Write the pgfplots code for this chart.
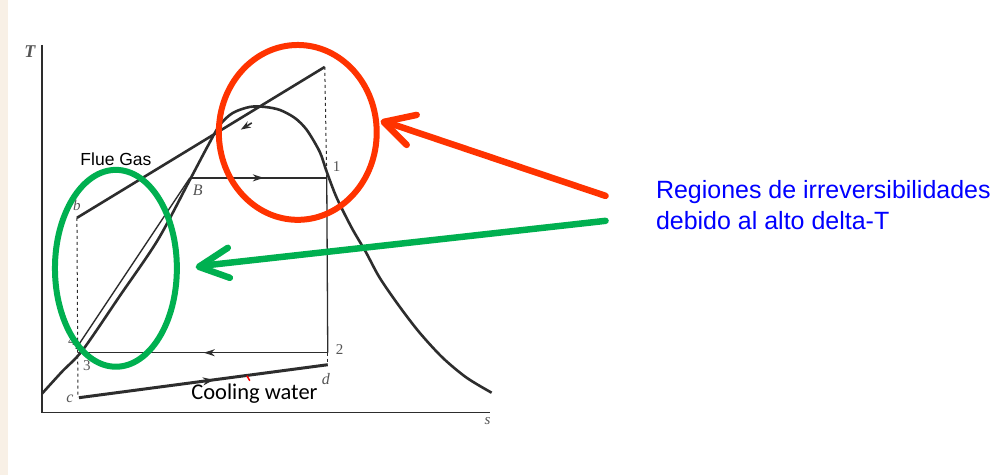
\documentclass[border=0pt]{standalone}
\usepackage{pgfplots}
\pgfplotsset{compat=1.18}
\usetikzlibrary{arrows.meta}
\usepackage{fontspec}
\setmainfont{Liberation Serif}
\newfontfamily\arial{Liberation Sans}
\newfontfamily\calibri{Carlito}
\definecolor{ink}{RGB}{45,45,45}
\definecolor{lbl}{RGB}{85,85,85}
\definecolor{redo}{RGB}{255,51,0}
\definecolor{grn}{RGB}{0,176,80}
\definecolor{txtblue}{RGB}{0,0,255}
\definecolor{beige}{RGB}{248,240,230}
\begin{document}
\begin{tikzpicture}
\begin{axis}[scale only axis, width=994pt, height=475pt,
  xmin=0, xmax=994, ymin=0, ymax=475, y dir=reverse,
  axis lines=none, clip=false]
% background
\addplot[fill=white, draw=none] coordinates {(0,0)(994,0)(994,475)(0,475)} -- cycle;
\addplot[fill=beige, draw=none] coordinates {(0,0)(8,0)(8,475)(0,475)} -- cycle;
% diagram axes
\addplot[ink, line width=1.3pt] coordinates {(42,45)(42,413)(490,413)};
% saturation dome
\addplot[ink, line width=2.6pt, smooth, tension=0.5] coordinates {
 (42,394)(62,372)(83,350)(120,296)(158,240)(190,180)(208,146)(220,125)
 (233,113)(250,107)(265,107)(280,110)(295,118)(307,130)(320,152)(327,172)(337,198)
 (352,228)(366,252)(380,278)(400,307)(420,333)(443,358)(467,378)(492,393)};
% 4 -> B heating line
\addplot[ink, line width=1.4pt] coordinates {(76,349)(190,178)};
% flue gas line
\addplot[ink, line width=2.6pt] coordinates {(77,218)(325,67)};
\addplot[ink, line width=1.6pt, -{Stealth[length=10pt,width=7pt]}] coordinates {(252,123)(241,129.7)};
% B -> 1
\addplot[ink, line width=1.3pt] coordinates {(190,178)(327,178)};
\addplot[ink, line width=1.3pt, -{Stealth[length=11pt,width=7pt]}] coordinates {(248,178)(264,178)};
% 2 -> 3
\addplot[ink, line width=1.3pt] coordinates {(78,353)(328,353)};
\addplot[ink, line width=1.3pt, -{Stealth[length=11pt,width=7pt]}] coordinates {(222,353)(204,353)};
% cooling water
\addplot[ink, line width=3pt] coordinates {(79,398)(328,365)};
\addplot[ink, line width=1.5pt, -{Stealth[length=11pt,width=8pt]}] coordinates {(198,382.3)(214,380.2)};
% vertical lines
\addplot[ink, line width=1pt, dashed] coordinates {(77,218)(78,398)};
\addplot[ink, line width=1pt, dashed] coordinates {(325,67)(327,178)};
\addplot[ink, line width=1.3pt] coordinates {(327,178)(328,353)};
\addplot[ink, line width=1pt, dashed] coordinates {(328,353)(328,365)};
% small red tick
\addplot[red, line width=1.5pt] coordinates {(247,376)(250,381)};
% labels
\node[lbl, font=\bfseries\itshape\fontsize{18}{18}\selectfont] at (axis cs:30,52) {T};
\node[lbl, font=\itshape\fontsize{15}{15}\selectfont] at (axis cs:488,421) {s};
\node[lbl, font=\itshape\fontsize{15}{15}\selectfont] at (axis cs:77,206) {b};
\node[lbl, font=\itshape\fontsize{16}{16}\selectfont] at (axis cs:198,190) {B};
\node[lbl, font=\fontsize{15}{15}\selectfont] at (axis cs:337,167) {1};
\node[lbl, font=\fontsize{15}{15}\selectfont] at (axis cs:340,350) {2};
\node[lbl, font=\fontsize{15}{15}\selectfont] at (axis cs:87,366) {3};
\node[lbl, font=\fontsize{15}{15}\selectfont] at (axis cs:72,341) {4};
\node[lbl, font=\itshape\fontsize{16}{16}\selectfont] at (axis cs:70,399) {c};
\node[lbl, font=\itshape\fontsize{16}{16}\selectfont] at (axis cs:326,379) {d};
\node[anchor=base west, font=\arial\fontsize{17.5}{20}\selectfont] at (axis cs:77,166) {Flue Gas};
\node[anchor=base west, font=\calibri\fontsize{22.5}{26}\selectfont] at (axis cs:188,400) {Cooling water};
% ellipses
\draw[redo, line width=6pt] (axis cs:298,132.5) ellipse [x radius=79, y radius=87.5];
\draw[grn, line width=6pt] (axis cs:116,268.5) ellipse [x radius=61, y radius=98.5];
% arrows
\addplot[redo, line width=6.5pt, line cap=round] coordinates {(606,196)(386,122)};
\addplot[redo, line width=6.5pt, line cap=round, line join=round] coordinates {(417,115)(384,122)(407,145)};
\addplot[grn, line width=6.5pt, line cap=round] coordinates {(606,221)(202,266)};
\addplot[grn, line width=6.5pt, line cap=round, line join=round] coordinates {(228,248)(199,267)(230,278)};
% text
\node[anchor=base west, text=txtblue, font=\arial\fontsize{25}{30}\selectfont] at (axis cs:653,199) {Regiones de irreversibilidades};
\node[anchor=base west, text=txtblue, font=\arial\fontsize{25}{30}\selectfont] at (axis cs:653,230) {debido al alto delta-T};
\end{axis}
\end{tikzpicture}
\end{document}
